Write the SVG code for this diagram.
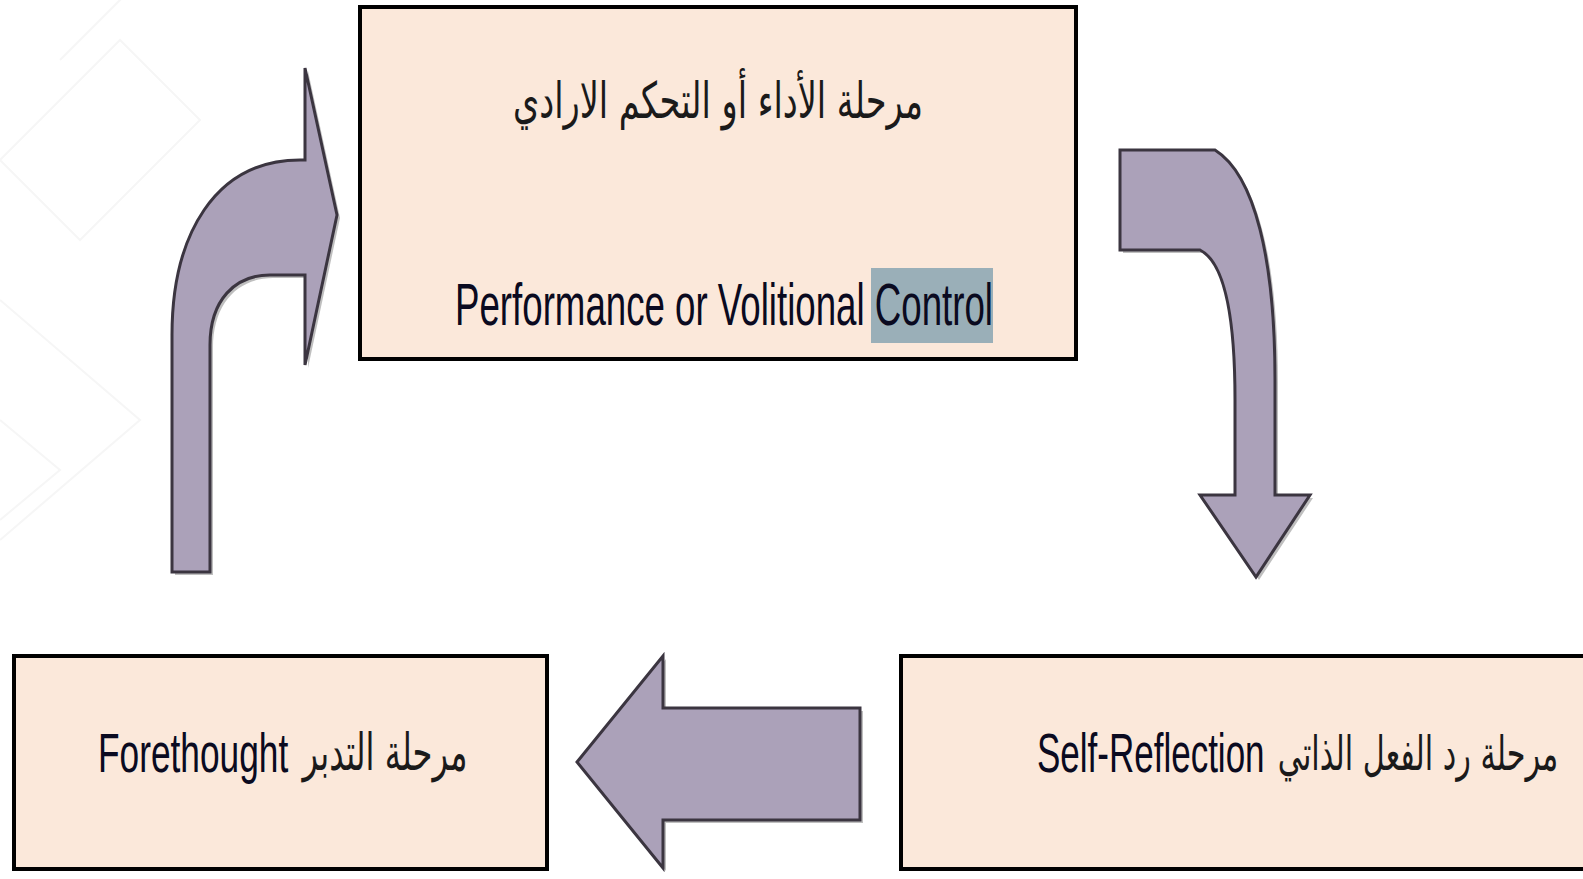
<svg xmlns="http://www.w3.org/2000/svg" xmlns:xlink="http://www.w3.org/1999/xlink" width="1583" height="879" viewBox="0 0 1583 879">
<style>
.box{fill:#fbe8da;stroke:#000;stroke-width:4}
.arrow{fill:#aba1b9;stroke:#3b3540;stroke-width:3;stroke-linejoin:miter}
.shadow{fill:#8a8a8a;opacity:0.55}
.en{font-family:"Liberation Sans",Arial,sans-serif;fill:#0a0a20}
.ar{font-family:"DejaVu Sans","Noto Sans",sans-serif;fill:#1a1a1a}
.bg{fill:none;stroke:#f6f6f6;stroke-width:2}
</style>
<defs>
<path id="a1" d="M172,572 L172,335 C172,235 215,160 300,160 L305,160 L305,68 L337,215 L305,365 L305,275 L270,275 C235,275 210,300 210,345 L210,572 Z"/>
<path id="a2" d="M1120,150 L1215,150 C1255,175 1275,260 1275,380 L1275,495 L1310,495 L1256,577 L1200,495 L1235,495 L1235,400 C1235,300 1220,260 1200,250 L1120,250 Z"/>
<path id="a3" d="M860,708 L663,708 L663,656 L577,762 L663,868 L663,820 L860,820 Z"/>
</defs>
<rect width="1583" height="879" fill="#ffffff"/>
<g id="background">
<path class="bg" d="M0,160 L120,40 L200,120 L80,240 Z"/>
<path class="bg" d="M60,60 L150,-30"/>
<path class="bg" d="M0,300 L140,420 L0,540"/>
<path class="bg" d="M0,420 L60,470 L0,520"/>
</g>
<g id="connectors">
<use xlink:href="#a1" class="shadow" transform="translate(3,3)"/>
<use xlink:href="#a1" class="arrow"/>
<use xlink:href="#a2" class="shadow" transform="translate(3,3)"/>
<use xlink:href="#a2" class="arrow"/>
<use xlink:href="#a3" class="shadow" transform="translate(3,3)"/>
<use xlink:href="#a3" class="arrow"/>
</g>
<g id="node-performance">
<rect class="box" x="360" y="7" width="716" height="352"/>
<text class="ar" x="718" y="118" font-size="50" text-anchor="middle" textLength="410" lengthAdjust="spacingAndGlyphs">مرحلة الأداء أو التحكم الارادي</text>
<rect x="871" y="268" width="122" height="75" fill="#9aafb8"/>
<text class="en" x="455" y="325" font-size="60" textLength="538" lengthAdjust="spacingAndGlyphs">Performance or Volitional Control</text>
</g>
<g id="node-forethought">
<rect class="box" x="14" y="656" width="533" height="213"/>
<text class="en" transform="translate(98,772) scale(0.63,1)" font-size="56">Forethought</text>
<text class="ar" transform="translate(385,770) scale(0.63,1)" font-size="51" text-anchor="middle">مرحلة التدبر</text>
</g>
<g id="node-selfreflection">
<rect class="box" x="901" y="656" width="690" height="213"/>
<text class="en" transform="translate(1037,772) scale(0.625,1)" font-size="56">Self-Reflection</text>
<text class="ar" transform="translate(1418,770) scale(0.63,1)" font-size="48" text-anchor="middle">مرحلة رد الفعل الذاتي</text>
</g>
</svg>
